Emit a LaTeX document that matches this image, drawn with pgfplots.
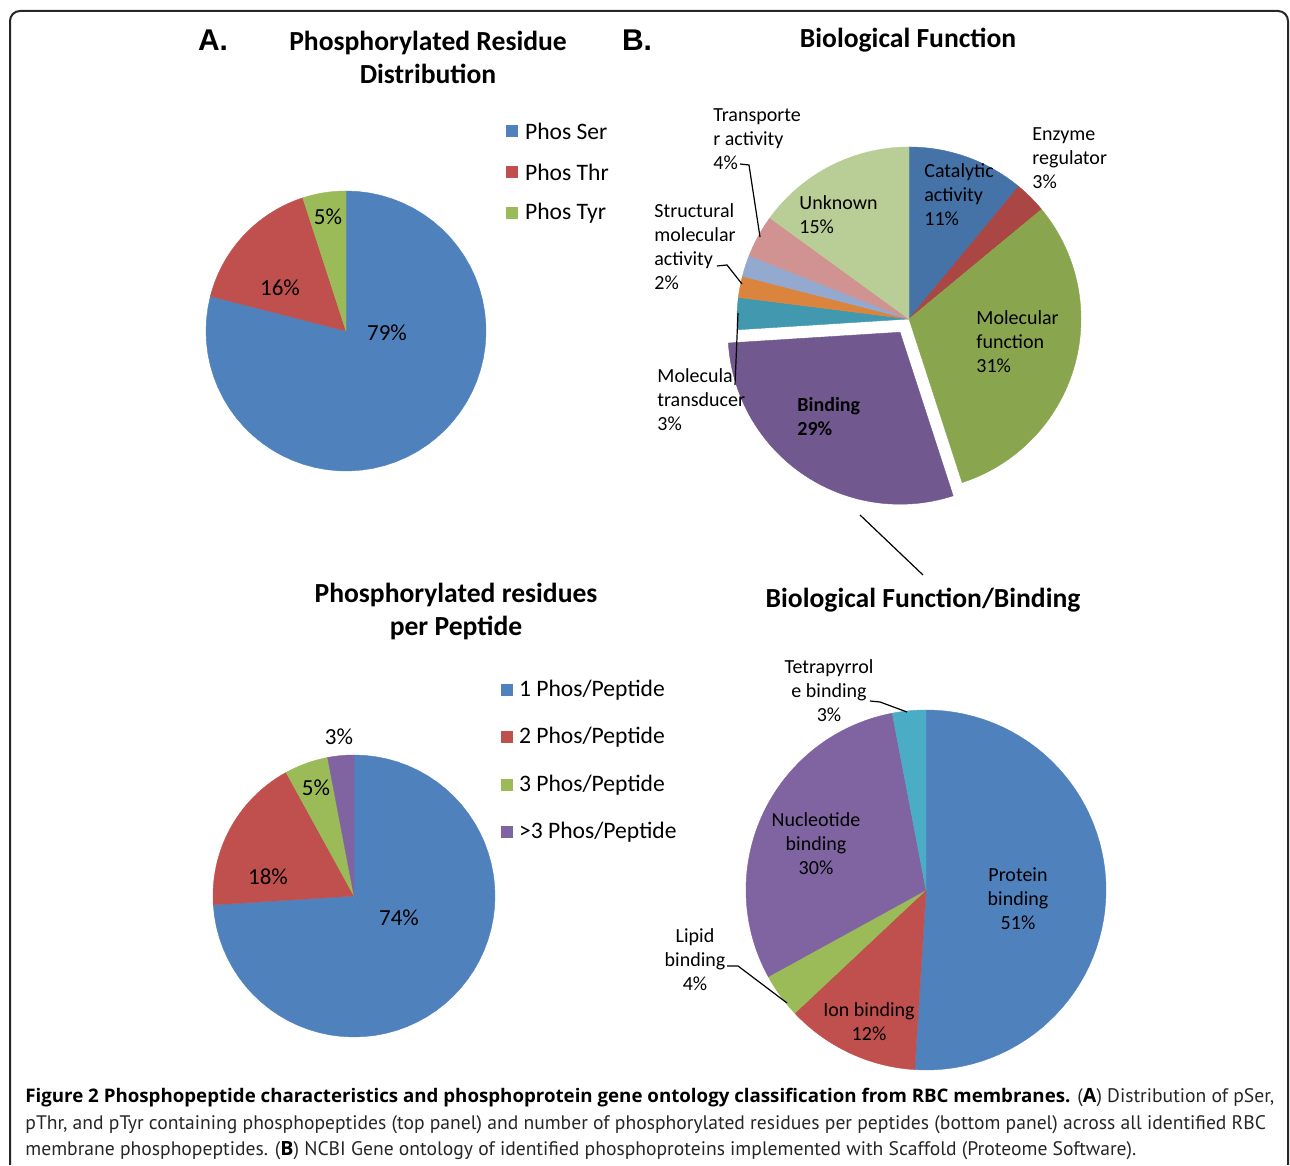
\documentclass[border=0pt]{standalone}
\usepackage{pgfplots}
\pgfplotsset{compat=1.18}
\usepackage{pgfplotstable}
\usepackage{fontspec}
\setmainfont{Carlito}
\newfontfamily\capfont{PT Sans}
\newfontfamily\capbold{Open Sans}[UprightFont=* Bold]
\newfontfamily\arialfont{Liberation Sans}

\definecolor{oBlue}{HTML}{4F81BD}
\definecolor{oRed}{HTML}{C0504D}
\definecolor{oGreen}{HTML}{9BBB59}
\definecolor{oPurple}{HTML}{8064A2}
\definecolor{oAqua}{HTML}{4BACC6}
\definecolor{bBlue}{HTML}{4572A7}
\definecolor{bRed}{HTML}{AA4643}
\definecolor{bGreen}{HTML}{89A54E}
\definecolor{bPurple}{HTML}{71588F}
\definecolor{bAqua}{HTML}{4198AF}
\definecolor{bOrange}{HTML}{DB843D}
\definecolor{bLBlue}{HTML}{93A9CF}
\definecolor{bPink}{HTML}{D19392}
\definecolor{bLGreen}{HTML}{B9CD96}

% Phosphorylated residue distribution
\pgfplotstableread{
pct col ex
79 oBlue 0
16 oRed 0
5 oGreen 0
}\pieA
% Biological function
\pgfplotstableread{
pct col ex
11 bBlue 0
3 bRed 0
31 bGreen 0
29 bPurple 16
3 bAqua 0
2 bOrange 0
2 bLBlue 0
4 bPink 0
15 bLGreen 0
}\pieB
% Phosphorylated residues per peptide
\pgfplotstableread{
pct col ex
74 oBlue 0
18 oRed 0
5 oGreen 0
3 oPurple 0
}\pieC
% Biological function / binding
\pgfplotstableread{
pct col ex
51 oBlue 0
12 oRed 0
4 oGreen 0
30 oPurple 0
3 oAqua 0
}\pieD

\newcommand{\drawpie}[5]{% table, cx, cy, r, last row index
  \def\pcum{0}%
  \pgfplotsforeachungrouped \sli in {0,...,#5}{%
    \pgfplotstablegetelem{\sli}{pct}\of{#1}\let\slp\pgfplotsretval
    \pgfplotstablegetelem{\sli}{col}\of{#1}\let\slcol\pgfplotsretval
    \pgfplotstablegetelem{\sli}{ex}\of{#1}\let\slex\pgfplotsretval
    \pgfmathsetmacro\angA{90-3.6*\pcum}%
    \pgfmathsetmacro\angB{90-3.6*(\pcum+\slp)}%
    \pgfmathsetmacro\angM{(\angA+\angB)/2}%
    \pgfmathsetmacro\ccx{#2+\slex*cos(\angM)}%
    \pgfmathsetmacro\ccy{#3+\slex*sin(\angM)}%
    \pgfmathsetmacro\pcum{\pcum+\slp}%
    \edef\temp{\noexpand\addplot[fill=\slcol, draw=\slcol, line width=0.2pt, domain=\angB:\angA, samples=60] ({\ccx+#4*cos(x)},{\ccy+#4*sin(x)}) -- (\ccx,\ccy) -- cycle;}%
    \temp
  }%
}

\begin{document}
\begin{tikzpicture}
\begin{axis}[
  x=0.5pt, y=0.5pt, scale only axis,
  xmin=0, xmax=1290, ymin=0, ymax=1165,
  hide axis, clip=false,
]
\path (axis cs:0,0) rectangle (axis cs:1290,1165);
% frame
\draw[line width=1pt, color=black!85, rounded corners=5pt] (axis cs:10,0) -- (axis cs:10,1154) -- (axis cs:1288,1154) -- (axis cs:1288,0);

% pies
\drawpie{\pieA}{346}{834}{140}{2}
\drawpie{\pieB}{909}{846}{172}{8}
\drawpie{\pieC}{354}{269}{141}{3}
\drawpie{\pieD}{926}{275}{180}{4}

% legend squares
\addplot[only marks, mark=square*, mark size=2.75pt, color=oBlue] coordinates {(512,1034)};
\addplot[only marks, mark=square*, mark size=2.75pt, color=oRed] coordinates {(512,993)};
\addplot[only marks, mark=square*, mark size=2.75pt, color=oGreen] coordinates {(512,952)};
\addplot[only marks, mark=square*, mark size=2.9pt, color=oBlue] coordinates {(507,475)};
\addplot[only marks, mark=square*, mark size=2.9pt, color=oRed] coordinates {(507,428)};
\addplot[only marks, mark=square*, mark size=2.9pt, color=oGreen] coordinates {(507,380)};
\addplot[only marks, mark=square*, mark size=2.9pt, color=oPurple] coordinates {(507,333)};

% titles
\node[font=\arialfont\bfseries\fontsize{15}{18}\selectfont] at (axis cs:213,1125) {A.};
\node[font=\arialfont\bfseries\fontsize{15}{18}\selectfont] at (axis cs:637,1125) {B.};
\node[font=\bfseries\fontsize{13.8}{16.5}\selectfont, align=center] at (axis cs:428,1108) {Phosphorylated Residue\\Distribution};
\node[font=\bfseries\fontsize{13.8}{16.5}\selectfont] at (axis cs:908,1125) {Biological Function};
\node[font=\bfseries\fontsize{13.8}{16.5}\selectfont, align=center] at (axis cs:456,554) {Phosphorylated residues\\per Peptide};
\node[font=\bfseries\fontsize{13.8}{16.5}\selectfont] at (axis cs:923,565) {Biological Function/Binding};

% legends text
\begin{scope}[every node/.style={anchor=west, font=\fontsize{11.8}{14}\selectfont}]
\node at (axis cs:518,1034) {Phos Ser};
\node at (axis cs:518,993) {Phos Thr};
\node at (axis cs:518,952) {Phos Tyr};
\node at (axis cs:512,475) {1 Phos/Peptide};
\node at (axis cs:512,428) {2 Phos/Peptide};
\node at (axis cs:512,380) {3 Phos/Peptide};
\node at (axis cs:512,333) {>3 Phos/Peptide};
\end{scope}

% A labels
\begin{scope}[every node/.style={font=\fontsize{11.5}{14}\selectfont}]
\node at (axis cs:387,832) {79\%};
\node at (axis cs:280,877) {16\%};
\node at (axis cs:328,948) {5\%};
\node at (axis cs:399,247) {74\%};
\node at (axis cs:268,288) {18\%};
\node at (axis cs:316,377) {5\%};
\node at (axis cs:339,428) {3\%};
\end{scope}

% B labels
\begin{scope}[every node/.style={anchor=west, align=left, font=\fontsize{10}{12}\selectfont, inner sep=0pt}]
\node at (axis cs:924,970) {Catalytic\\activity\\11\%};
\node at (axis cs:1032,1007) {Enzyme\\regulator\\3\%};
\node at (axis cs:976,823) {Molecular\\function\\31\%};
\node[font=\bfseries\fontsize{10}{12}\selectfont] at (axis cs:797,748) {Binding\\29\%};
\node at (axis cs:799,950) {Unknown\\15\%};
\node at (axis cs:713,1026) {Transporte\\r activity\\4\%};
\node at (axis cs:654,918) {Structural\\molecular\\activity\\2\%};
\node at (axis cs:657,765) {Molecula\\transducer\\3\%};
\end{scope}
\draw[line width=0.6pt] (axis cs:740,1001) -- (axis cs:749,1000) -- (axis cs:760,928);
\draw[line width=0.6pt] (axis cs:717,899) -- (axis cs:727,900) -- (axis cs:742,881);
\draw[line width=0.6pt] (axis cs:738,852) -- (axis cs:735,780);
\draw[line width=0.6pt] (axis cs:860,650) -- (axis cs:923,590);

% BR labels
\begin{scope}[every node/.style={align=center, font=\fontsize{10}{12}\selectfont, inner sep=0pt}]
\node at (axis cs:1018,266) {Protein\\binding\\51\%};
\node at (axis cs:869,143) {Ion binding\\12\%};
\node at (axis cs:695,205) {Lipid\\binding\\4\%};
\node at (axis cs:816,321) {Nucleotide\\binding\\30\%};
\node at (axis cs:829,474) {Tetrapyrrol\\e binding\\3\%};
\end{scope}
\draw[line width=0.6pt] (axis cs:870,464) -- (axis cs:880,463) -- (axis cs:907,453);
\draw[line width=0.6pt] (axis cs:727,199) -- (axis cs:738,199) -- (axis cs:787,162);

% caption
\begin{scope}[every node/.style={anchor=west, inner sep=0pt, font=\capfont\fontsize{9.8}{12}\selectfont, text=black!85}]
\node at (axis cs:25,67) {{\capbold\fontsize{9.35}{12}\selectfont\color{black}Figure 2 Phosphopeptide characteristics and phosphoprotein gene ontology classification from RBC membranes.} ({\capbold\color{black}A}) Distribution of pSer,};
\node at (axis cs:25,40) {pThr, and pTyr containing phosphopeptides (top panel) and number of phosphorylated residues per peptides (bottom panel) across all identified RBC};
\node at (axis cs:25,14) {membrane phosphopeptides. ({\capbold\color{black}B}) NCBI Gene ontology of identified phosphoproteins implemented with Scaffold (Proteome Software).};
\end{scope}
\end{axis}
\end{tikzpicture}
\end{document}
